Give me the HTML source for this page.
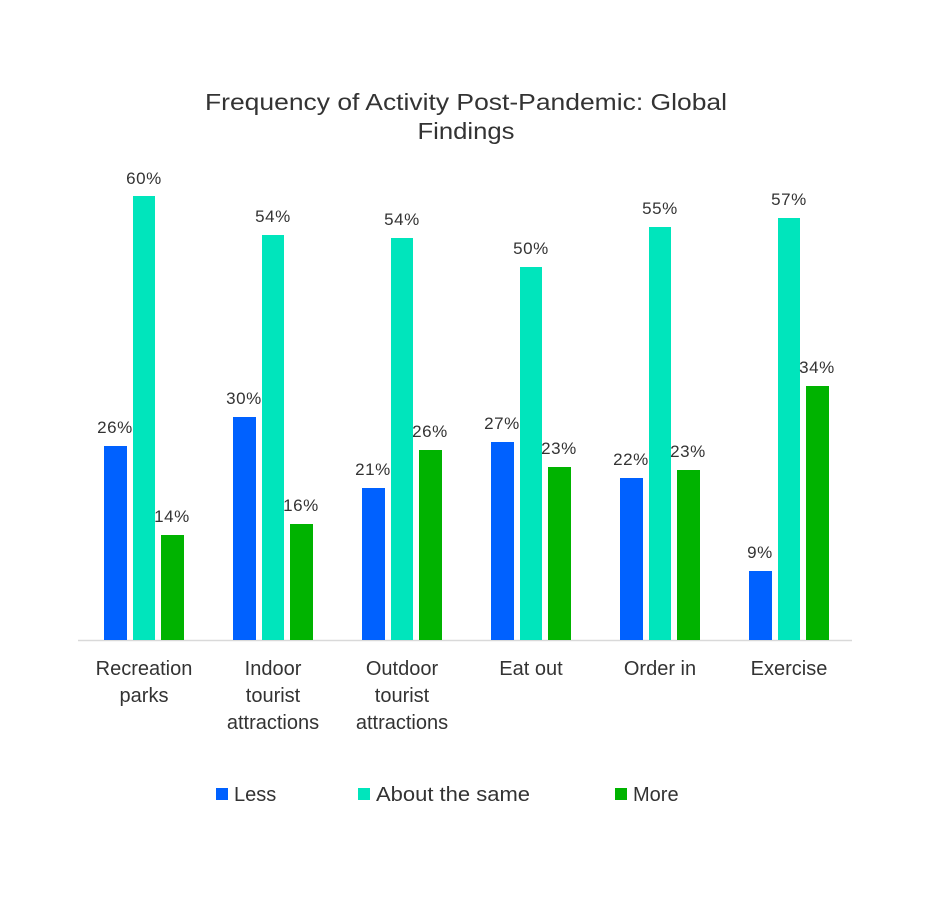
<!DOCTYPE html>
<html><head><style>
body{margin:0;background:#fff;}
svg text{font-family:"Liberation Sans",sans-serif;fill:#333;}
</style></head><body>
<svg width="940" height="900" xmlns="http://www.w3.org/2000/svg">
<rect width="940" height="900" fill="#fff"/>
<text x="466" y="110" font-size="23" text-anchor="middle" textLength="522" lengthAdjust="spacingAndGlyphs">Frequency of Activity Post-Pandemic: Global</text>
<text x="466" y="139" font-size="23" text-anchor="middle" textLength="97" lengthAdjust="spacingAndGlyphs">Findings</text>
<line x1="78" y1="640.5" x2="852" y2="640.5" stroke="#d9d9d9" stroke-width="1.5"/>
<g font-size="17" text-anchor="middle" letter-spacing="0.6">
<g>
<rect x="104" y="446" width="23" height="194" fill="#0061FF"/><text x="115" y="433">26%</text>
<rect x="133" y="196" width="22" height="444" fill="#00E5BC"/><text x="144" y="184">60%</text>
<rect x="161" y="535" width="23" height="105" fill="#00B300"/><text x="172" y="522">14%</text>
</g>
<g>
<rect x="233" y="417" width="23" height="223" fill="#0061FF"/><text x="244" y="404">30%</text>
<rect x="262" y="235" width="22" height="405" fill="#00E5BC"/><text x="273" y="222">54%</text>
<rect x="290" y="524" width="23" height="116" fill="#00B300"/><text x="301" y="511">16%</text>
</g>
<g>
<rect x="362" y="488" width="23" height="152" fill="#0061FF"/><text x="373" y="475">21%</text>
<rect x="391" y="238" width="22" height="402" fill="#00E5BC"/><text x="402" y="225">54%</text>
<rect x="419" y="450" width="23" height="190" fill="#00B300"/><text x="430" y="437">26%</text>
</g>
<g>
<rect x="491" y="442" width="23" height="198" fill="#0061FF"/><text x="502" y="429">27%</text>
<rect x="520" y="267" width="22" height="373" fill="#00E5BC"/><text x="531" y="254">50%</text>
<rect x="548" y="467" width="23" height="173" fill="#00B300"/><text x="559" y="454">23%</text>
</g>
<g>
<rect x="620" y="478" width="23" height="162" fill="#0061FF"/><text x="631" y="465">22%</text>
<rect x="649" y="227" width="22" height="413" fill="#00E5BC"/><text x="660" y="214">55%</text>
<rect x="677" y="470" width="23" height="170" fill="#00B300"/><text x="688" y="457">23%</text>
</g>
<g>
<rect x="749" y="571" width="23" height="69" fill="#0061FF"/><text x="760" y="558">9%</text>
<rect x="778" y="218" width="22" height="422" fill="#00E5BC"/><text x="789" y="205">57%</text>
<rect x="806" y="386" width="23" height="254" fill="#00B300"/><text x="817" y="373">34%</text>
</g>
</g>
<g font-size="20" text-anchor="middle">
<text x="144" y="675">Recreation</text><text x="144" y="702">parks</text>
<text x="273" y="675">Indoor</text><text x="273" y="702">tourist</text><text x="273" y="729">attractions</text>
<text x="402" y="675">Outdoor</text><text x="402" y="702">tourist</text><text x="402" y="729">attractions</text>
<text x="531" y="675">Eat out</text>
<text x="660" y="675">Order in</text>
<text x="789" y="675">Exercise</text>
</g>
<g font-size="20">
<rect x="216" y="788" width="12" height="12" fill="#0061FF"/><text x="234" y="801">Less</text>
<rect x="358" y="788" width="12" height="12" fill="#00E5BC"/><text x="376" y="801" textLength="154" lengthAdjust="spacingAndGlyphs">About the same</text>
<rect x="615" y="788" width="12" height="12" fill="#00B300"/><text x="633" y="801">More</text>
</g>
</svg>
</body></html>
